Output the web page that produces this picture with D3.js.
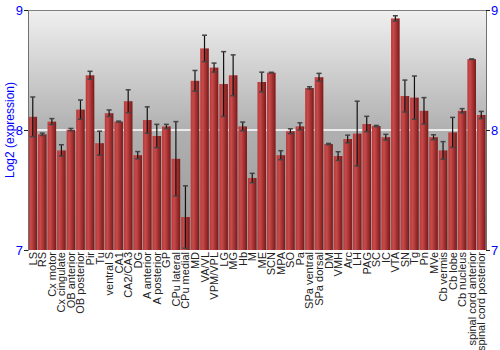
<!DOCTYPE html>
<html>
<head>
<meta charset="utf-8">
<script src="https://cdn.jsdelivr.net/npm/d3@7"></script>
<style>
  body { margin: 0; background: #fff; }
  text { font-family: "Liberation Sans", Arial, sans-serif; }
</style>
</head>
<body>
<div id="chart"></div>
<script>
// brain regions, mean log2 expression and error
const regions = ["LS", "RS", "Cx motor", "Cx cingulate", "OB anterior", "OB posterior", "Pir", "Tu",
  "ventral S", "CA1", "CA2/CA3", "DG", "A anterior", "A posterior", "GP", "CPu lateral", "CPu medial",
  "MD", "VA/VL", "VPM/VPL", "LG", "MG", "Hb", "M", "ME", "SCN", "MPA", "SO", "Pa", "SPa ventral",
  "SPa dorsal", "DM", "VMH", "Arc", "LH", "PAG", "SC", "IC", "VTA", "SN", "Tg", "Pn", "MVe",
  "Cb vermis", "Cb lobe", "Cb nucleus", "spinal cord anterior", "spinal cord posterior"];
const values = [8.11, 7.964, 8.07, 7.83, 8.003, 8.17, 8.456, 7.89,
  8.14, 8.07, 8.24, 7.79, 8.083, 7.95, 8.03, 7.76, 7.275,
  8.41, 8.68, 8.52, 8.383, 8.456, 8.03, 7.6, 8.40, 8.478, 7.79, 7.99, 8.03, 8.35,
  8.44, 7.883, 7.783, 7.925, 7.97, 8.05, 8.033, 7.94, 8.93, 8.283, 8.27, 8.16, 7.94,
  7.83, 7.98, 8.16, 8.59, 8.125];
const errors = [0.165, 0.01, 0.025, 0.047, 0.01, 0.08, 0.033, 0.1,
  0.027, 0.004, 0.095, 0.03, 0.11, 0.097, 0.017, 0.31, 0.26,
  0.086, 0.11, 0.0375, 0.27, 0.17, 0.036, 0.039, 0.082, 0.003, 0.0375, 0.02, 0.03, 0.01,
  0.032, 0.005, 0.036, 0.032, 0.27, 0.064, 0.005, 0.024, 0.022, 0.133, 0.18, 0.11, 0.02,
  0.073, 0.125, 0.018, 0.002, 0.03];
const yTicks = [7, 8, 9];

const data = regions.map((r, i) => ({ region: r, value: values[i], err: errors[i] }));

const margin = { top: 10, right: 14, bottom: 100, left: 28 },
      width = 500 - margin.left - margin.right,
      height = 350 - margin.top - margin.bottom;

const svg = d3.select("#chart")
  .append("svg")
    .attr("width", width + margin.left + margin.right)
    .attr("height", height + margin.top + margin.bottom);

const defs = svg.append("defs");

// plot background gradient
const bgGrad = defs.append("linearGradient")
    .attr("id", "bg").attr("x1", 0).attr("y1", 0).attr("x2", 0).attr("y2", 1);
bgGrad.append("stop").attr("offset", "0%").attr("stop-color", "#f0f0f0");
bgGrad.append("stop").attr("offset", "50%").attr("stop-color", "#b0b0b0");
bgGrad.append("stop").attr("offset", "100%").attr("stop-color", "#989898");

// bar gradient, lighter on the left
const barGrad = defs.append("linearGradient")
    .attr("id", "bar").attr("x1", 0).attr("y1", 0).attr("x2", 1).attr("y2", 0);
barGrad.append("stop").attr("offset", "0%").attr("stop-color", "#b83838");
barGrad.append("stop").attr("offset", "30%").attr("stop-color", "#c84a4a");
barGrad.append("stop").attr("offset", "100%").attr("stop-color", "#7a1818");

const g = svg.append("g")
    .attr("transform", `translate(${margin.left},${margin.top})`);

const x = d3.scaleBand()
    .domain(regions)
    .range([0, width])
    .paddingInner(0.1)
    .paddingOuter(0.05);

const y = d3.scaleLinear()
    .domain([7, 9])
    .range([height, 0]);

g.append("rect")
    .attr("width", width)
    .attr("height", height)
    .attr("fill", "url(#bg)");

// white grid line
g.append("g")
  .selectAll("line")
  .data(yTicks.filter(t => t > 7 && t < 9))
  .enter()
  .append("line")
    .attr("x1", 0).attr("x2", width)
    .attr("y1", d => y(d)).attr("y2", d => y(d))
    .attr("stroke", "#ffffff")
    .attr("stroke-width", 1.5);

// bars
g.append("g")
  .selectAll("rect")
  .data(data)
  .enter()
  .append("rect")
    .attr("x", d => x(d.region))
    .attr("y", d => y(d.value))
    .attr("width", x.bandwidth())
    .attr("height", d => height - y(d.value))
    .attr("fill", "url(#bar)");

// error bars
const eb = g.append("g")
  .selectAll("g")
  .data(data)
  .enter()
  .append("g")
    .attr("transform", d => `translate(${x(d.region) + x.bandwidth() / 2},0)`);

eb.append("line")
    .attr("y1", d => y(d.value - d.err))
    .attr("y2", d => y(d.value + d.err))
    .attr("stroke", "#111")
    .attr("stroke-width", 1.2);

eb.selectAll("line.cap")
  .data(d => [d.value - d.err, d.value + d.err])
  .enter()
  .append("line")
    .attr("class", "cap")
    .attr("x1", -2.5).attr("x2", 2.5)
    .attr("y1", v => y(v)).attr("y2", v => y(v))
    .attr("stroke", "#444")
    .attr("stroke-width", 1.5);

// top border
g.append("line")
    .attr("x1", 0).attr("x2", width)
    .attr("y1", 0.5).attr("y2", 0.5)
    .attr("stroke", "#808080");

// left and right axes
const yLeft = g.append("g")
    .call(d3.axisLeft(y).tickValues(yTicks).tickFormat(d3.format("d")).tickSize(4));
const yRight = g.append("g")
    .attr("transform", `translate(${width},0)`)
    .call(d3.axisRight(y).tickValues(yTicks).tickFormat(d3.format("d")).tickSize(4));

[yLeft, yRight].forEach(a => {
  a.select(".domain").attr("stroke", "#707070");
  a.selectAll(".tick line").attr("stroke", "#222");
  a.selectAll(".tick text")
    .attr("fill", "#0000ff")
    .style("font-size", "13px");
});
yLeft.selectAll(".tick text").attr("x", -5);
yRight.selectAll(".tick text").attr("x", 5);

// x labels, rotated
g.append("g")
  .selectAll("text")
  .data(regions)
  .enter()
  .append("text")
    .attr("transform", d => `translate(${x(d) + x.bandwidth() / 2 + 4},${height + 2}) rotate(-90)`)
    .attr("text-anchor", "end")
    .style("font-size", "11px")
    .style("fill", "#222")
    .text(d => d);

// Y axis label
svg.append("text")
    .attr("text-anchor", "middle")
    .attr("transform", `translate(14,${margin.top + height / 2}) rotate(-90)`)
    .style("fill", "#0000ff")
    .style("font-size", "12px")
    .text("Log2 (expression)");
</script>
</body>
</html>
